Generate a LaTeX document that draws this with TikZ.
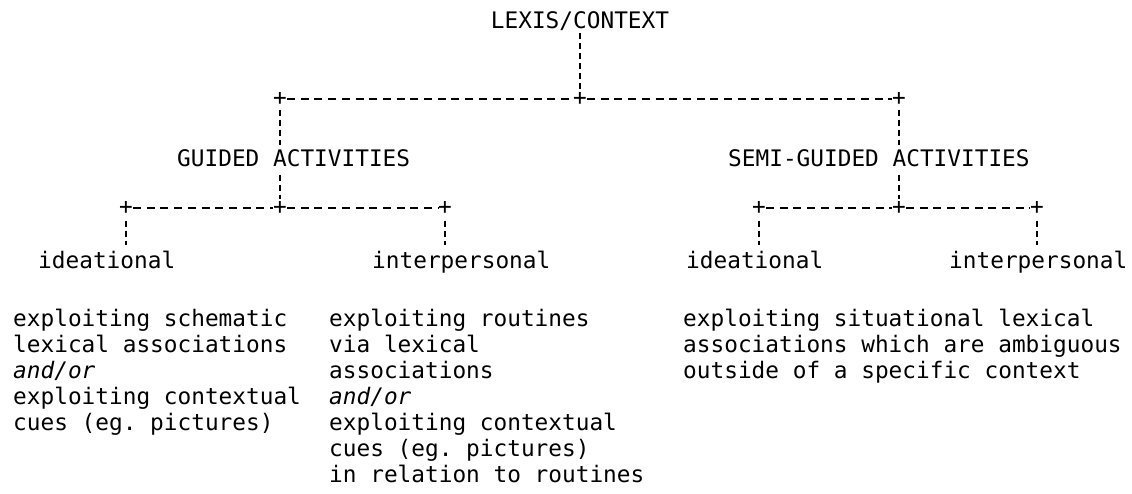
\documentclass[tikz,border=0pt]{standalone}
\usepackage{fontspec}
\setmonofont{DejaVu Sans Mono}
\newcommand{\tw}{\ttfamily\fontsize{22.76}{26}\selectfont}
\begin{document}
\begin{tikzpicture}[x=1pt,y=-1pt,
  txt/.style={font=\tw, inner sep=0pt, anchor=base west, align=left},
  jn/.style={font=\tw, inner sep=0pt},
  hdash/.style={line width=1.2pt, dash pattern=on 8pt off 5.7pt},
  vdash/.style={line width=1.3pt, dash pattern=on 6pt off 4pt},
]
\fill[white] (0,0) rectangle (1132,493);
\useasboundingbox (0,0) rectangle (1132,493);

% root
\node[txt, anchor=base] (root) at (580,28) {LEXIS/CONTEXT};
% top junctions
\node[jn] (jt1) at (280,99) {+};
\node[jn] (jt2) at (580,99) {+};
\node[jn] (jt3) at (899,99) {+};
% second level
\node[txt] (guided) at (177,166) {GUIDED ACTIVITIES};
\node[txt] (semi) at (728,166) {SEMI-GUIDED ACTIVITIES};
% sub junctions
\node[jn] (jg1) at (126,208) {+};
\node[jn] (jg2) at (280,208) {+};
\node[jn] (jg3) at (445,208) {+};
\node[jn] (js1) at (759,208) {+};
\node[jn] (js2) at (899,208) {+};
\node[jn] (js3) at (1037,208) {+};
% leaves
\node[txt] (gid) at (38,268) {ideational};
\node[txt] (gip) at (372,268) {interpersonal};
\node[txt] (sid) at (686,268) {ideational};
\node[txt] (sip) at (949,268) {interpersonal};
% descriptions (base anchor = last line's baseline)
\node[txt] (d1) at (13,430) {exploiting schematic\\lexical associations\\\textit{and/or}\\exploiting contextual\\cues (eg. pictures)};
\node[txt] (d2) at (329,482) {exploiting routines\\via lexical\\associations\\\textit{and/or}\\exploiting contextual\\cues (eg. pictures)\\in relation to routines};
\node[txt] (d3) at (683,378) {exploiting situational lexical\\associations which are ambiguous\\outside of a specific context};

% connectors
\draw[vdash, shorten <=3pt] (root.south -| jt2) -- (jt2.north);
\draw[hdash] (jt1.east) -- (jt2.west);
\draw[hdash] (jt2.east) -- (jt3.west);
\draw[vdash, shorten <=4pt, shorten >=4pt] (jt1.south) -- (jt1.south |- guided.north);
\draw[vdash, shorten <=4pt, shorten >=4pt] (jt3.south) -- (jt3.south |- semi.north);
\draw[vdash, shorten <=8pt, shorten >=2pt] (guided.south -| jg2) -- (jg2.north);
\draw[vdash, shorten <=8pt, shorten >=2pt] (semi.south -| js2) -- (js2.north);
\draw[hdash] (jg1.east) -- (jg2.west);
\draw[hdash] (jg2.east) -- (jg3.west);
\draw[hdash] (js1.east) -- (js2.west);
\draw[hdash] (js2.east) -- (js3.west);
\draw[vdash, shorten <=6pt, shorten >=5pt] (jg1.south) -- (jg1.south |- gid.north);
\draw[vdash, shorten <=6pt, shorten >=5pt] (jg3.south) -- (jg3.south |- gip.north);
\draw[vdash, shorten <=6pt, shorten >=5pt] (js1.south) -- (js1.south |- sid.north);
\draw[vdash, shorten <=6pt, shorten >=5pt] (js3.south) -- (js3.south |- sip.north);
\end{tikzpicture}
\end{document}
